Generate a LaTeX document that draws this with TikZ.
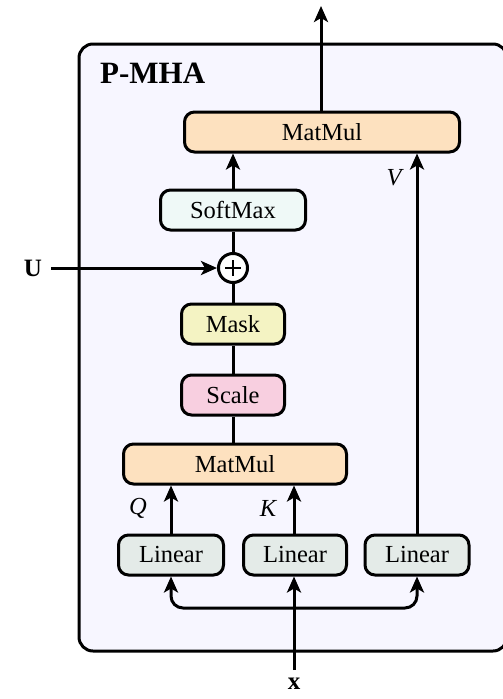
\documentclass[tikz,border=0pt]{standalone}
\usepackage{fontspec}
\setmainfont{Liberation Serif}
\usepackage{tikz}
\usetikzlibrary{calc,arrows.meta}
\definecolor{panelbg}{HTML}{F7F6FF}
\definecolor{matmulbg}{HTML}{FDE1BF}
\definecolor{softbg}{HTML}{EFF9F7}
\definecolor{maskbg}{HTML}{F4F3C3}
\definecolor{scalebg}{HTML}{F8CFE0}
\definecolor{linbg}{HTML}{E4EBE8}
\tikzset{
  blk/.style={draw=black, line width=3pt, rounded corners=10pt, minimum height=40pt,
    inner sep=0pt, font=\fontsize{24.5}{29}\selectfont},
  wire/.style={draw=black, line width=3pt},
  arr/.style={wire, -{Stealth[length=16pt,width=14pt,inset=4pt]}},
  arrboth/.style={wire, {Stealth[length=16pt,width=14pt,inset=4pt]}-{Stealth[length=16pt,width=14pt,inset=4pt]}, rounded corners=12pt},
  lab/.style={font=\fontsize{24.5}{29}\selectfont\itshape, inner sep=0pt},
  bold/.style={font=\fontsize{25}{30}\selectfont\bfseries, inner sep=0pt},
}
\begin{document}
\begin{tikzpicture}[x=1pt, y=-1pt]
  \useasboundingbox (0,0) rectangle (503,699);
  % panel
  \draw[line width=3pt, rounded corners=14pt, fill=panelbg] (79,44) rectangle (507,651);
  \node[font=\fontsize{31}{36}\selectfont\bfseries, anchor=west, inner sep=0pt] (title) at (100,73) {P-MHA};

  % blocks
  \node[blk, fill=matmulbg, minimum width=275pt] (mm1) at (322,132) {MatMul};
  \node[blk, fill=softbg, minimum width=145pt] (soft) at (233,210) {SoftMax};
  \node[circle, draw=black, line width=3pt, fill=white, minimum size=29pt, inner sep=0pt] (plus) at (233,268) {};
  \draw[line width=2.6pt] ($(plus)+(-8,0)$) -- ($(plus)+(8,0)$) ($(plus)+(0,-8)$) -- ($(plus)+(0,8)$);
  \node[blk, fill=maskbg, minimum width=103pt] (mask) at (233,324) {Mask};
  \node[blk, fill=scalebg, minimum width=103pt] (scl) at (233,395) {Scale};
  \node[blk, fill=matmulbg, minimum width=223pt] (mm2) at (235,464) {MatMul};
  \node[blk, fill=linbg, minimum width=105pt] (lin1) at (171,555) {Linear};
  \node[blk, fill=linbg, minimum width=103pt] (lin2) at (295,555) {Linear};
  \node[blk, fill=linbg, minimum width=104pt] (lin3) at (417,555) {Linear};

  % labels
  \node[lab] (q) at (138,508) {Q};
  \node[lab] (k) at (268,508) {K};
  \node[lab] (v) at (394,178) {V};
  \node[bold] (u) at (33,268) {U};
  \node[bold, anchor=north] (x) at (294,678) {x};
  \coordinate (out) at (321,6);
  \coordinate (xin) at (294,670);
  \coordinate (bus) at (294,608);

  % wires
  \draw[wire] (mm2.north -| scl) -- (scl) -- (mask) -- (plus) -- (soft);
  \draw[arr] (soft) -- (soft |- mm1.south);
  \draw[arr] (mm1.north -| out) -- (out);
  \draw[arr, shorten <=9pt] (u) -- (plus);
  \draw[arr] (lin1) -- (lin1 |- mm2.south);
  \draw[arr] (lin2.north -| xin) -- (xin |- mm2.south);
  \draw[arr] (lin3) -- (lin3 |- mm1.south);
  \draw[arrboth] (lin1.south) |- (bus) -| (lin3.south);
  \draw[arr] (xin) -- (xin |- lin2.south);
\end{tikzpicture}
\end{document}
